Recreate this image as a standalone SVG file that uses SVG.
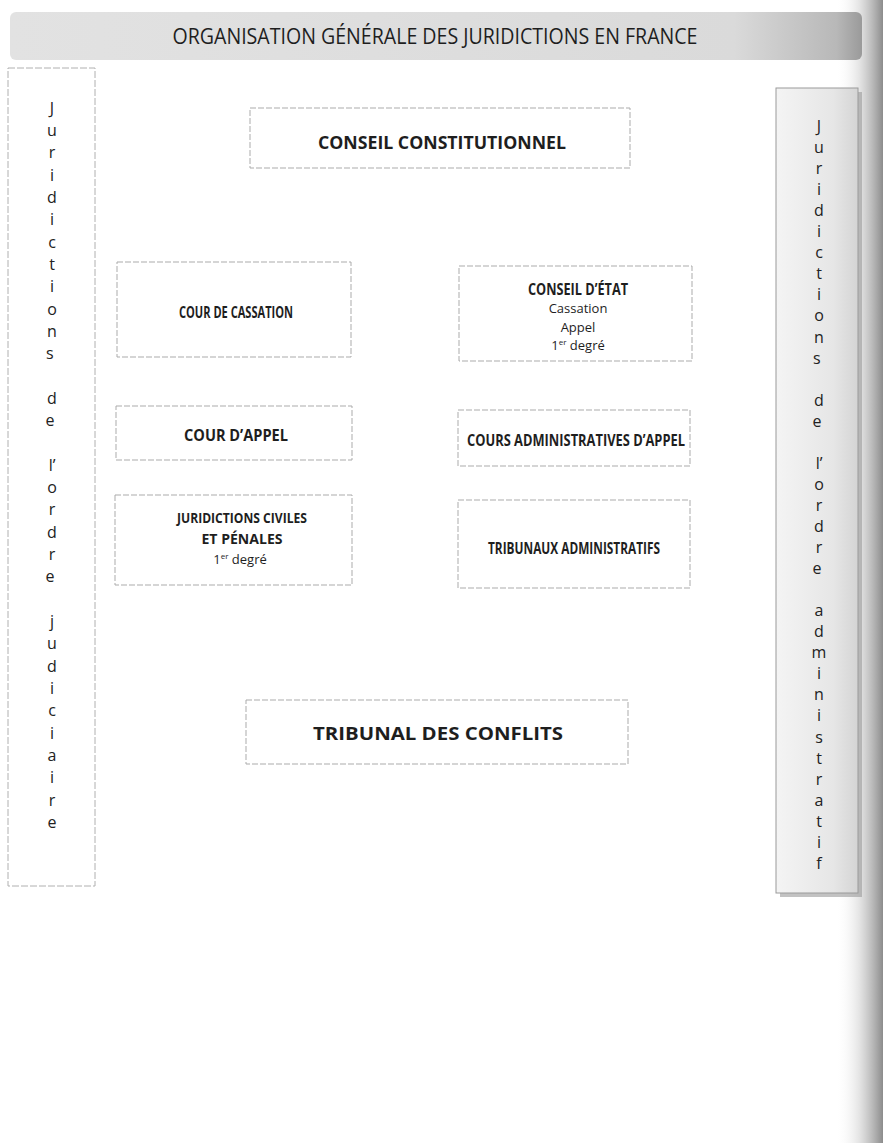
<svg xmlns="http://www.w3.org/2000/svg" width="883" height="1143" viewBox="0 0 883 1143">
<defs>
<linearGradient id="hdr" x1="0" y1="0" x2="1" y2="0">
<stop offset="0" stop-color="#e2e2e2"/>
<stop offset="0.85" stop-color="#dadada"/>
<stop offset="0.97" stop-color="#b8b8b8"/>
<stop offset="1" stop-color="#9a9a9a"/>
</linearGradient>
<linearGradient id="edge" x1="0" y1="0" x2="1" y2="0">
<stop offset="0" stop-color="#ffffff" stop-opacity="0"/>
<stop offset="0.5" stop-color="#d8d8d8" stop-opacity="0.7"/>
<stop offset="1" stop-color="#8c8c8c"/>
</linearGradient>
<linearGradient id="rpanel" x1="0" y1="0" x2="1" y2="0">
<stop offset="0" stop-color="#f4f4f4"/>
<stop offset="0.7" stop-color="#e6e6e6"/>
<stop offset="1" stop-color="#d4d4d4"/>
</linearGradient>
<style>
.box{fill:#ffffff;stroke:#ababab;stroke-width:1;stroke-dasharray:6 2}
.t{font-family:"Open Sans","Liberation Sans",sans-serif;fill:#1e1e1e;text-anchor:middle}
.b{font-weight:bold}
.big{font-size:18.5px}
.mid{font-size:15.5px}
.sm{font-size:13px}
.sup{font-size:8px}
.col{font-family:"Open Sans","Liberation Sans",sans-serif;font-size:16px;fill:#222;text-anchor:middle}
</style>
</defs>
<rect x="0" y="0" width="883" height="1143" fill="#ffffff"/>
<rect x="836" y="0" width="47" height="1143" fill="url(#edge)"/>

<g id="header">
<rect x="10" y="12" width="852" height="48" rx="6" fill="url(#hdr)"/>
<text class="t" x="435" y="44" font-size="22" textLength="525" lengthAdjust="spacingAndGlyphs">ORGANISATION GÉNÉRALE DES JURIDICTIONS EN FRANCE</text>
</g>

<g id="ordre-judiciaire">
<rect x="8" y="68" width="87" height="818" fill="#ffffff" stroke="#b0b0b0" stroke-width="1" stroke-dasharray="7 2"/>
<text class="col">
<tspan x="52" y="114">J</tspan><tspan x="52" y="136">u</tspan><tspan x="52" y="158">r</tspan><tspan x="52" y="181">i</tspan><tspan x="52" y="203">d</tspan><tspan x="52" y="225">i</tspan><tspan x="52" y="248">c</tspan><tspan x="52" y="270">t</tspan><tspan x="52" y="292">i</tspan><tspan x="52" y="315">o</tspan><tspan x="52" y="337">n</tspan><tspan x="52" y="359">s</tspan>
<tspan x="52" y="404">d</tspan><tspan x="52" y="426">e</tspan>
<tspan x="52" y="471">l’</tspan><tspan x="52" y="493">o</tspan><tspan x="52" y="515">r</tspan><tspan x="52" y="538">d</tspan><tspan x="52" y="560">r</tspan><tspan x="52" y="582">e</tspan>
<tspan x="52" y="627">j</tspan><tspan x="52" y="649">u</tspan><tspan x="52" y="672">d</tspan><tspan x="52" y="694">i</tspan><tspan x="52" y="716">c</tspan><tspan x="52" y="739">i</tspan><tspan x="52" y="761">a</tspan><tspan x="52" y="783">i</tspan><tspan x="52" y="806">r</tspan><tspan x="52" y="828">e</tspan>
</text>
</g>

<g id="ordre-administratif">
<rect x="780" y="92" width="82" height="805" fill="#9a9a9a" opacity="0.6"/>
<rect x="776" y="88" width="82" height="805" fill="url(#rpanel)" stroke="#9a9a9a" stroke-width="1"/>
<text class="col">
<tspan x="819" y="132">J</tspan><tspan x="819" y="153">u</tspan><tspan x="819" y="174">r</tspan><tspan x="819" y="195">i</tspan><tspan x="819" y="216">d</tspan><tspan x="819" y="237">i</tspan><tspan x="819" y="258">c</tspan><tspan x="819" y="279">t</tspan><tspan x="819" y="300">i</tspan><tspan x="819" y="321">o</tspan><tspan x="819" y="343">n</tspan><tspan x="819" y="364">s</tspan>
<tspan x="819" y="406">d</tspan><tspan x="819" y="427">e</tspan>
<tspan x="819" y="469">l’</tspan><tspan x="819" y="490">o</tspan><tspan x="819" y="511">r</tspan><tspan x="819" y="532">d</tspan><tspan x="819" y="553">r</tspan><tspan x="819" y="574">e</tspan>
<tspan x="819" y="616">a</tspan><tspan x="819" y="637">d</tspan><tspan x="819" y="658">m</tspan><tspan x="819" y="679">i</tspan><tspan x="819" y="700">n</tspan><tspan x="819" y="721">i</tspan><tspan x="819" y="743">s</tspan><tspan x="819" y="764">t</tspan><tspan x="819" y="785">r</tspan><tspan x="819" y="806">a</tspan><tspan x="819" y="827">t</tspan><tspan x="819" y="848">i</tspan><tspan x="819" y="869">f</tspan>
</text>
</g>

<g id="conseil-constitutionnel">
<rect class="box" x="250" y="108" width="380" height="60"/>
<text class="t b big" x="442" y="149" textLength="248" lengthAdjust="spacingAndGlyphs">CONSEIL CONSTITUTIONNEL</text>
</g>

<g id="cour-de-cassation">
<rect class="box" x="117" y="262" width="234" height="95"/>
<text class="t b mid" x="236" y="318" textLength="114" lengthAdjust="spacingAndGlyphs">COUR DE CASSATION</text>
</g>

<g id="conseil-etat">
<rect class="box" x="459" y="266" width="233" height="95"/>
<text class="t b mid" x="578" y="295" textLength="100" lengthAdjust="spacingAndGlyphs">CONSEIL D’ÉTAT</text>
<text class="t sm" x="578" y="313">Cassation</text>
<text class="t sm" x="578" y="332">Appel</text>
<text class="t sm" x="578" y="350">1<tspan class="sup" dy="-5">er</tspan><tspan dy="5"> degré</tspan></text>
</g>

<g id="cour-appel">
<rect class="box" x="116" y="406" width="236" height="54"/>
<text class="t b mid" x="236" y="441" textLength="104" lengthAdjust="spacingAndGlyphs">COUR D’APPEL</text>
</g>

<g id="cours-administratives-appel">
<rect class="box" x="458" y="410" width="232" height="56"/>
<text class="t b mid" x="576" y="446" textLength="218" lengthAdjust="spacingAndGlyphs">COURS ADMINISTRATIVES D’APPEL</text>
</g>

<g id="juridictions-civiles-penales">
<rect class="box" x="115" y="495" width="237" height="90"/>
<text class="t b" font-size="15" x="242" y="523" textLength="130" lengthAdjust="spacingAndGlyphs">JURIDICTIONS CIVILES</text>
<text class="t b" font-size="15" x="242" y="544" textLength="81" lengthAdjust="spacingAndGlyphs">ET PÉNALES</text>
<text class="t sm" x="240" y="564">1<tspan class="sup" dy="-5">er</tspan><tspan dy="5"> degré</tspan></text>
</g>

<g id="tribunaux-administratifs">
<rect class="box" x="458" y="500" width="232" height="88"/>
<text class="t b mid" x="574" y="554" textLength="172" lengthAdjust="spacingAndGlyphs">TRIBUNAUX ADMINISTRATIFS</text>
</g>

<g id="tribunal-des-conflits">
<rect class="box" x="246" y="700" width="382" height="64"/>
<text class="t b big" x="438" y="740" textLength="250" lengthAdjust="spacingAndGlyphs">TRIBUNAL DES CONFLITS</text>
</g>

<g id="connectors"></g>
</svg>
